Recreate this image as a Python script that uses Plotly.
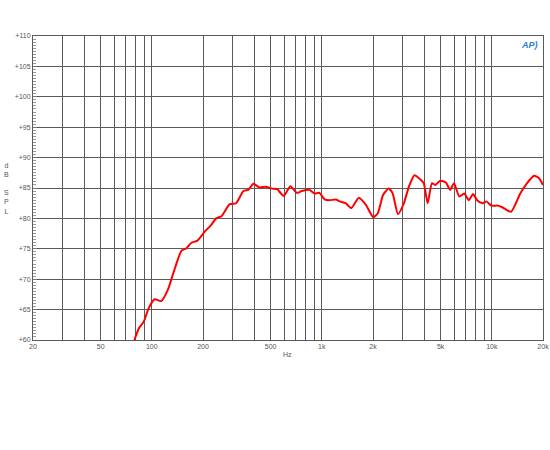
import plotly.graph_objects as go

freq_hz = [79, 83.8, 89.6, 95.7, 103.8, 113.5, 124, 133.8, 149.6, 160, 171, 184.6, 206, 223, 239, 258,
           286, 313, 346, 369, 396, 428, 467, 510, 546, 597, 653, 713, 762, 845, 904, 966, 1042, 1114,
           1208, 1274, 1380, 1490, 1652, 1820, 2008, 2130, 2296, 2468, 2604, 2806, 3040, 3250, 3508,
           3800, 3974, 4194, 4446, 4648, 4970, 5366, 5682, 5994, 6436, 6880, 7328, 7760, 8234, 8872,
           9290, 9934, 10850, 11590, 12980, 14700, 16210, 17730, 18960, 20000]
spl_db = [60.0, 61.9, 63.0, 65.2, 66.7, 66.4, 68.2, 71.0, 74.7, 75.1, 76.0, 76.3, 77.9, 78.9, 80.0, 80.4,
          82.3, 82.5, 84.5, 84.7, 85.7, 85.1, 85.2, 84.9, 84.8, 83.7, 85.3, 84.2, 84.5, 84.7, 84.1, 84.2,
          83.1, 83.0, 83.1, 82.8, 82.5, 81.7, 83.4, 82.2, 80.2, 80.8, 83.9, 84.9, 84.2, 80.7, 82.5, 85.2,
          87.1, 86.4, 85.8, 82.5, 85.8, 85.5, 86.2, 85.9, 84.7, 85.8, 83.6, 84.1, 83.0, 84.0, 82.9, 82.5,
          82.8, 82.1, 82.1, 81.8, 81.1, 84.1, 85.9, 87.0, 86.6, 85.5]

x_grid = [20, 30, 40, 50, 60, 70, 80, 90, 100, 200, 300, 400, 500, 600, 700, 800, 900,
          1000, 2000, 3000, 4000, 5000, 6000, 7000, 8000, 9000, 10000, 20000]
x_labels = {20: "20", 50: "50", 100: "100", 200: "200", 500: "500", 1000: "1k",
            2000: "2k", 5000: "5k", 10000: "10k", 20000: "20k"}

fig = go.Figure()
fig.add_trace(go.Scatter(x=freq_hz, y=spl_db, mode="lines",
                         line=dict(color="#ff0000", width=2, shape="spline", smoothing=0.6),
                         hoverinfo="skip", showlegend=False))

fig.update_layout(
    width=550, height=450,
    margin=dict(l=33, r=1, t=36, b=110),
    paper_bgcolor="white", plot_bgcolor="white",
    font=dict(family="Arial, Liberation Sans, sans-serif", size=7, color="#555555"),
    xaxis=dict(type="log", range=[1.30103, 4.30103],
               tickvals=x_grid, ticktext=[x_labels.get(v, "") for v in x_grid],
               ticklabeloverflow="allow",
               showgrid=True, gridcolor="#5a5a5a", gridwidth=1,
               showline=True, linecolor="#5a5a5a", mirror=True, ticks="",
               zeroline=False, tickfont=dict(size=7, color="#555555")),
    yaxis=dict(range=[60, 110], tickmode="linear", tick0=60, dtick=5, tickprefix="+",
               showgrid=True, gridcolor="#5a5a5a", gridwidth=1,
               showline=True, linecolor="#5a5a5a", mirror=True,
               ticks="inside", ticklen=4, tickcolor="#777777",
               minor=dict(dtick=0.5, ticks="inside", ticklen=3, tickcolor="#999999", showgrid=False),
               zeroline=False, tickfont=dict(size=7, color="#555555")),
    annotations=[
        dict(text="d<br>B<br> <br>S<br>P<br>L", xref="paper", yref="paper", x=-0.052, y=0.50,
             xanchor="center", yanchor="middle", showarrow=False, align="center",
             font=dict(size=7, color="#555555")),
        dict(text="Hz", xref="paper", yref="paper", x=0.499, y=0, yshift=-14,
             xanchor="center", yanchor="middle", showarrow=False,
             font=dict(size=7, color="#555555")),
        dict(text="<i><b>AP)</b></i>", xref="paper", yref="paper", x=0.995, y=0.995,
             xanchor="right", yanchor="top", showarrow=False,
             font=dict(size=9, color="#2a7fd4")),
    ],
)

fig.write_html("out.html", config={"displayModeBar": False},
               post_script="document.body.style.margin='0';document.body.style.overflow='hidden';")
